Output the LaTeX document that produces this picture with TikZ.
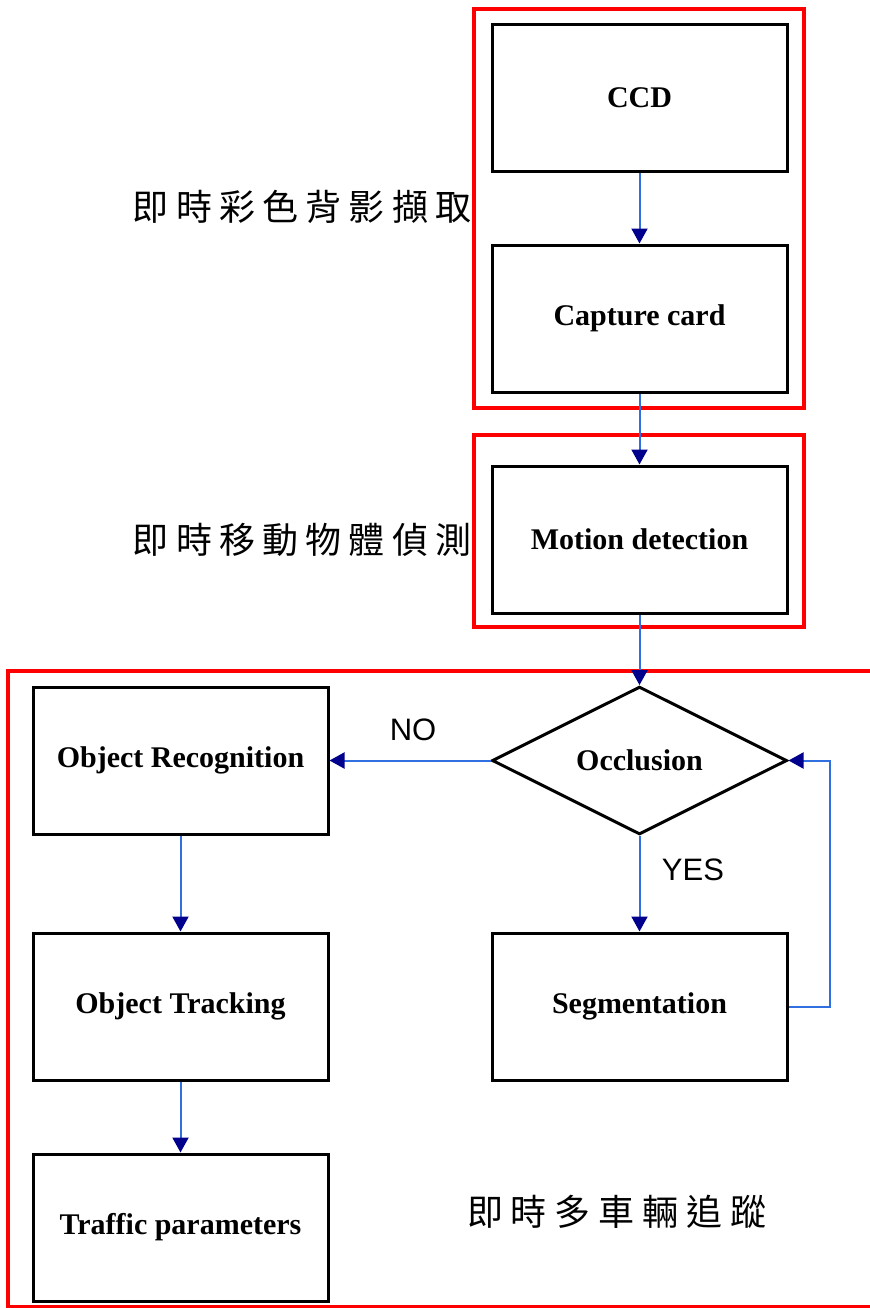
\documentclass[tikz,border=0pt]{standalone}
\usepackage{fontspec}
\setmainfont{Liberation Serif}
\newfontfamily\arialf{Liberation Sans}
\newfontfamily\cjk{Noto Sans CJK TC}
\usetikzlibrary{arrows.meta,shapes.geometric}
\definecolor{lineblue}{HTML}{2F6FE0}
\definecolor{headblue}{HTML}{00008C}
\definecolor{framered}{HTML}{FF0000}
\newcommand\gA{\hspace{3.6pt}}
\newcommand\gB{\hspace{4pt}}
\begin{document}
\begin{tikzpicture}[x=0.5pt,y=-0.5pt,
  procbox/.style={draw=black,line width=1.5pt,rectangle,minimum width=147.5pt,minimum height=73.5pt,inner sep=0pt,font=\bfseries\fontsize{15pt}{17pt}\selectfont,fill=white},
  decbox/.style={draw=black,line width=1.5pt,diamond,minimum width=147.5pt,minimum height=73.5pt,inner sep=0pt,font=\bfseries\fontsize{15pt}{17pt}\selectfont},
  flow/.style={draw=lineblue,line width=1pt,-{Triangle[width=8pt,length=7.5pt,color=headblue]}},
  frame/.style={draw=framered,line width=2pt},
  yn/.style={font=\arialf\fontsize{15.5pt}{17pt}\selectfont,inner sep=0pt},
  cjklabel/.style={font=\cjk\fontsize{18pt}{20pt}\selectfont,inner sep=0pt}]
\clip (0,0) rectangle (870,1308);
\fill[white] (0,0) rectangle (870,1308);
% red frames
\draw[frame] (474,9) rectangle (804,408);
\draw[frame] (474,435) rectangle (804,627);
\draw[frame] (8,671) rectangle (890,1307);
% nodes
\node[procbox] (ccd) at (639.5,97.5) {CCD};
\node[procbox] (cap) at (639.5,318.5) {Capture card};
\node[procbox] (mot) at (639.5,539.5) {Motion detection};
\node[decbox] (occ) at (639.5,760.5) {Occlusion};
\node[procbox] (rec) at (180.5,760.5) {Object Recognition};
\node[procbox] (trk) at (180.5,1006.5) {Object Tracking};
\node[procbox] (seg) at (639.5,1006.5) {Segmentation};
\node[procbox] (trf) at (180.5,1227.5) {Traffic parameters};
\coordinate (loop) at (830,760.5);
% labels
\node[cjklabel] (l1) at (302,207) {即\gA 時\gA 彩\gA 色\gA 背\gA 影\gA 擷\gA 取};
\node[cjklabel] (l2) at (302,540) {即\gA 時\gA 移\gA 動\gA 物\gA 體\gA 偵\gA 測};
\node[cjklabel] (l3) at (617,1212) {即\gB 時\gB 多\gB 車\gB 輛\gB 追\gB 蹤};
\node[yn] (no) at (413,730) {NO};
\node[yn] (yes) at (693,870) {YES};
% connectors
\draw[flow] (ccd.south) -- (cap.north);
\draw[flow] (cap.south) -- (mot.north);
\draw[flow] (mot.south) -- (occ.north);
\draw[flow] (occ.west) -- (rec.east);
\draw[flow] (occ.south) -- (seg.north);
\draw[flow] (seg.east) -| (loop) -- (occ.east);
\draw[flow] (rec.south) -- (trk.north);
\draw[flow] (trk.south) -- (trf.north);
\end{tikzpicture}
\end{document}
